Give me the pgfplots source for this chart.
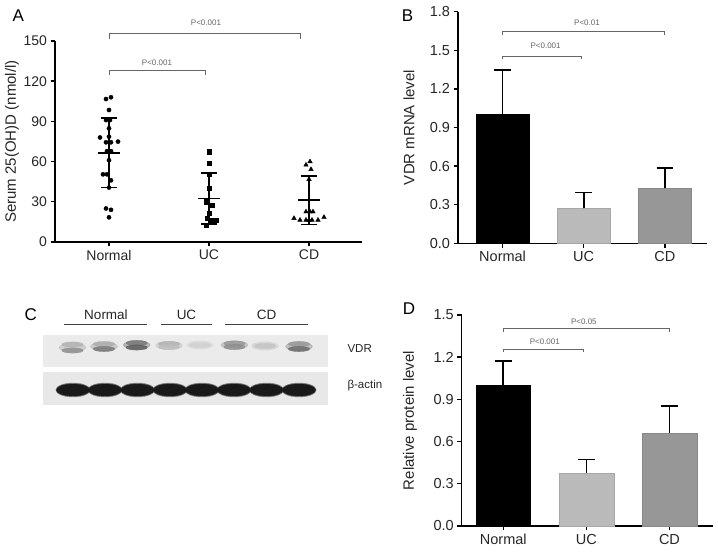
\documentclass[border=0pt]{standalone}
\usepackage{fontspec}
\setmainfont{Liberation Sans}
\usepackage{pgfplots}
\pgfplotsset{compat=1.18}

\definecolor{ucgray}{HTML}{BABABA}
\definecolor{cdgray}{HTML}{979797}
\definecolor{sig}{HTML}{666666}

\pgfplotsset{
  prism/.style={
    scale only axis, anchor=south west, clip=false,
    axis x line*=bottom, axis y line*=left,
    axis line style={line width=1.5pt, black},
    tick align=outside, major tick length=4.5pt,
    every tick/.style={line width=1.4pt, black},
    xtick={0,1,2}, xticklabels={Normal,UC,CD},
    ticklabel style={font=\fontsize{14.5}{16}\selectfont, text=black!85},
    label style={font=\fontsize{15}{17}\selectfont, text=black!85},
  },
  sd/.style={
    error bars/.cd, y dir=plus, y explicit,
    error bar style={line width=1.6pt, black},
    error mark options={line width=1.6pt, mark size=8.3pt, black, rotate=90},
  },
}
\newcommand{\sigfont}{\fontsize{8}{9}\selectfont}

\begin{document}
\begin{tikzpicture}
\useasboundingbox (0pt,0pt) rectangle (718pt,553pt);

% ---------------- A: serum 25(OH)D scatter
\begin{axis}[prism, at={(55pt,311pt)}, width=307pt, height=201pt,
  xmin=-0.54, xmax=2.53, ymin=0, ymax=150,
  ytick={0,30,60,90,120,150}, yticklabels={0,30,60,90,120,150},
  ylabel={Serum 25(OH)D (nmol/l)},
  ylabel style={at={(axis description cs:-0.14,0.5)}, anchor=center},
  ticklabel style={font=\fontsize{14}{16}\selectfont}]
\addplot[only marks, mark=*, mark size=2.1pt, black] coordinates {
  (-0.03,106.7) (0.02,108) (0,98.5) (-0.03,91) (0.01,91) (0,84.8)
  (-0.09,78) (0,78.6) (-0.03,74.4) (0.02,74.4) (0.09,74.9)
  (-0.02,67.8) (0.02,67.8) (0,61) (-0.06,50.5) (-0.02,50.5)
  (0.02,46) (0,40.6) (-0.03,25) (0.02,24) (0,18.4)};
\addplot[only marks, mark=square*, mark size=2.2pt, black] coordinates {
  (1,67.4) (1,58.7) (1,50.5) (1,40) (0.97,30) (1.03,27.6)
  (1,21.4) (0.98,17.7) (1.03,16.4) (1.07,16.4) (0.97,12.7)};
\addplot[only marks, mark=triangle*, mark size=2.6pt, black] coordinates {
  (1.97,57.5) (2.01,60) (2.02,54.2) (2,46.8)
  (1.97,22.6) (2.01,22.6) (2.04,22.6)
  (1.85,17.7) (1.91,16.4) (1.97,16.4) (2,16.4) (2.03,16.4) (2.09,16.4) (2.15,18.5)};
\addplot[only marks, mark=-, mark size=11pt, mark options={line width=1.6pt, black},
  error bars/.cd, y dir=both, y explicit,
  error bar style={line width=1.6pt, black},
  error mark options={line width=1.6pt, mark size=8.3pt, black, rotate=90}]
  coordinates {(0,66.5) +- (0,25.9) (1,32.6) +- (0,19) (2,31.2) +- (0,18)};
\draw[sig, line width=0.8pt] (axis cs:0,151.3) -- (axis cs:0,156) -- (axis cs:1.91,156) -- (axis cs:1.91,151.3);
\draw[sig, line width=0.8pt] (axis cs:0,124.6) -- (axis cs:0,127.8) -- (axis cs:0.96,127.8) -- (axis cs:0.96,124.6);
\node[font=\sigfont, text=sig] at (axis cs:0.97,163.4) {P<0.001};
\node[font=\sigfont, text=sig] at (axis cs:0.48,134) {P<0.001};
\end{axis}

% ---------------- B: VDR mRNA
\begin{axis}[prism, at={(458pt,309.7pt)}, width=249pt, height=231.6pt,
  xmin=-0.55, xmax=2.52, ymin=0, ymax=1.8,
  ytick={0,0.3,0.6,0.9,1.2,1.5,1.8}, yticklabels={0.0,0.3,0.6,0.9,1.2,1.5,1.8},
  ylabel={VDR mRNA level},
  ylabel style={at={(axis description cs:-0.197,0.5)}, anchor=center}]
\addplot[ybar, bar shift=0pt, bar width=0.66, fill=black, draw=black, sd] coordinates {(0,1.0) +- (0,0.347)};
\addplot[ybar, bar shift=0pt, bar width=0.66, fill=ucgray, draw=ucgray!90!black, sd] coordinates {(1,0.272) +- (0,0.124)};
\addplot[ybar, bar shift=0pt, bar width=0.66, fill=cdgray, draw=cdgray!90!black, sd] coordinates {(2,0.427) +- (0,0.156)};
\draw[sig, line width=0.7pt] (axis cs:0,1.618) -- (axis cs:0,1.644) -- (axis cs:2.0,1.644) -- (axis cs:2.0,1.618);
\draw[sig, line width=0.7pt] (axis cs:0,1.43) -- (axis cs:0,1.455) -- (axis cs:0.97,1.455) -- (axis cs:0.97,1.43);
\node[font=\sigfont, text=sig] at (axis cs:1.04,1.714) {P<0.01};
\node[font=\sigfont, text=sig] at (axis cs:0.53,1.533) {P<0.001};
\end{axis}

% ---------------- C: western blot
\begin{axis}[hide axis, scale only axis, anchor=south west, clip=false,
  at={(40pt,143pt)}, width=290pt, height=80pt,
  xmin=40, xmax=330, ymin=330, ymax=410, y dir=reverse,
  colormap={blot}{gray(0cm)=(0.93); gray(1cm)=(0.08)},
  point meta min=0, point meta max=1]
\addplot[fill=black!8, draw=none] coordinates {(42.7,335) (328.3,335) (328.3,367.5) (42.7,367.5)} -- cycle;
\addplot[fill=black!9, draw=none] coordinates {(42.7,372) (328.3,372) (328.3,405.5) (42.7,405.5)} -- cycle;
% VDR bands: soft halo, then core, [darkness]
\addplot[scatter, only marks, mark=*, point meta=explicit,
  scatter/use mapped color={draw=mapped color, fill=mapped color},
  mark size=4.2pt, mark options={xscale=3.2, opacity=0.45}] coordinates {
  (72.5,347.5) [0.30] (104,346.5) [0.35] (136.7,345) [0.55] (169,345.5) [0.22]
  (200,345) [0.12] (234.5,345) [0.38] (265,346) [0.18] (299,346.5) [0.45]};
\addplot[scatter, only marks, mark=*, point meta=explicit,
  scatter/use mapped color={draw=mapped color, fill=mapped color},
  mark size=2.6pt, mark options={xscale=4.1, opacity=0.8}] coordinates {
  (72.5,344.5) [0.28] (72.5,350.5) [0.45] (104,344) [0.30] (104,349) [0.56]
  (136.7,343) [0.55] (136.7,347.5) [0.68] (169,344) [0.28] (169,347) [0.22]
  (200,345) [0.14] (234.5,343.5) [0.40] (234.5,347) [0.45] (265,346) [0.20]
  (299,344) [0.40] (299,349) [0.62]};
% beta-actin bands
\addplot[scatter, only marks, mark=*, point meta=explicit,
  scatter/use mapped color={draw=mapped color, fill=mapped color},
  mark size=7pt, mark options={xscale=2.45, opacity=0.5}] coordinates {
  (73,390) [0.9] (105,390) [0.9] (137.5,390) [0.9] (170,390) [0.9]
  (202,390) [0.9] (234,390) [0.9] (266.5,390) [0.9] (299,390) [0.9]};
\addplot[scatter, only marks, mark=*, point meta=explicit,
  scatter/use mapped color={draw=mapped color, fill=mapped color},
  mark size=6pt, mark options={xscale=2.75}] coordinates {
  (73,390) [0.97] (105,390) [0.97] (137.5,390) [0.97] (170,390) [0.97]
  (202,390) [0.97] (234,390) [0.97] (266.5,390) [0.97] (299,390) [0.97]};
\draw[black!75, line width=0.8pt] (axis cs:64,324.3) -- (axis cs:146.7,324.3);
\draw[black!75, line width=0.8pt] (axis cs:161,324.3) -- (axis cs:212,324.3);
\draw[black!75, line width=0.8pt] (axis cs:225.3,324.3) -- (axis cs:308.3,324.3);
\node[font=\fontsize{13.5}{15}\selectfont, text=black!85] at (axis cs:106,314.5) {Normal};
\node[font=\fontsize{13.5}{15}\selectfont, text=black!85] at (axis cs:186.5,314.5) {UC};
\node[font=\fontsize{13.5}{15}\selectfont, text=black!85] at (axis cs:266.7,314.5) {CD};
\node[font=\fontsize{11.5}{13}\selectfont, text=black!85, anchor=west] at (axis cs:344,348.5) {VDR};
\node[font=\fontsize{11.5}{13}\selectfont, text=black!85, anchor=west] at (axis cs:344,386) {β-actin};
\end{axis}

% ---------------- D: relative protein
\begin{axis}[prism, at={(461.7pt,27pt)}, width=251pt, height=211pt,
  xmin=-0.5, xmax=2.52, ymin=0, ymax=1.5,
  ytick={0,0.3,0.6,0.9,1.2,1.5}, yticklabels={0.0,0.3,0.6,0.9,1.2,1.5},
  ylabel={Relative protein level},
  ylabel style={at={(axis description cs:-0.206,0.5)}, anchor=center}]
\addplot[ybar, bar shift=0pt, bar width=0.66, fill=black, draw=black, sd] coordinates {(0,1.0) +- (0,0.173)};
\addplot[ybar, bar shift=0pt, bar width=0.66, fill=ucgray, draw=ucgray!90!black, sd] coordinates {(1,0.375) +- (0,0.099)};
\addplot[ybar, bar shift=0pt, bar width=0.66, fill=cdgray, draw=cdgray!90!black, sd] coordinates {(2,0.663) +- (0,0.19)};
\draw[sig, line width=0.7pt] (axis cs:0,1.381) -- (axis cs:0,1.405) -- (axis cs:2.0,1.405) -- (axis cs:2.0,1.381);
\draw[sig, line width=0.7pt] (axis cs:0,1.239) -- (axis cs:0,1.258) -- (axis cs:0.96,1.258) -- (axis cs:0.96,1.239);
\node[font=\sigfont, text=sig] at (axis cs:0.97,1.455) {P<0.05};
\node[font=\sigfont, text=sig] at (axis cs:0.5,1.31) {P<0.001};
\end{axis}

% panel letters
\node[font=\fontsize{17}{19}\selectfont] at (18.3pt,537pt) {A};
\node[font=\fontsize{17}{19}\selectfont] at (407.5pt,537.5pt) {B};
\node[font=\fontsize{17}{19}\selectfont] at (30.7pt,238pt) {C};
\node[font=\fontsize{17}{19}\selectfont] at (409pt,244pt) {D};
\end{tikzpicture}
\end{document}
